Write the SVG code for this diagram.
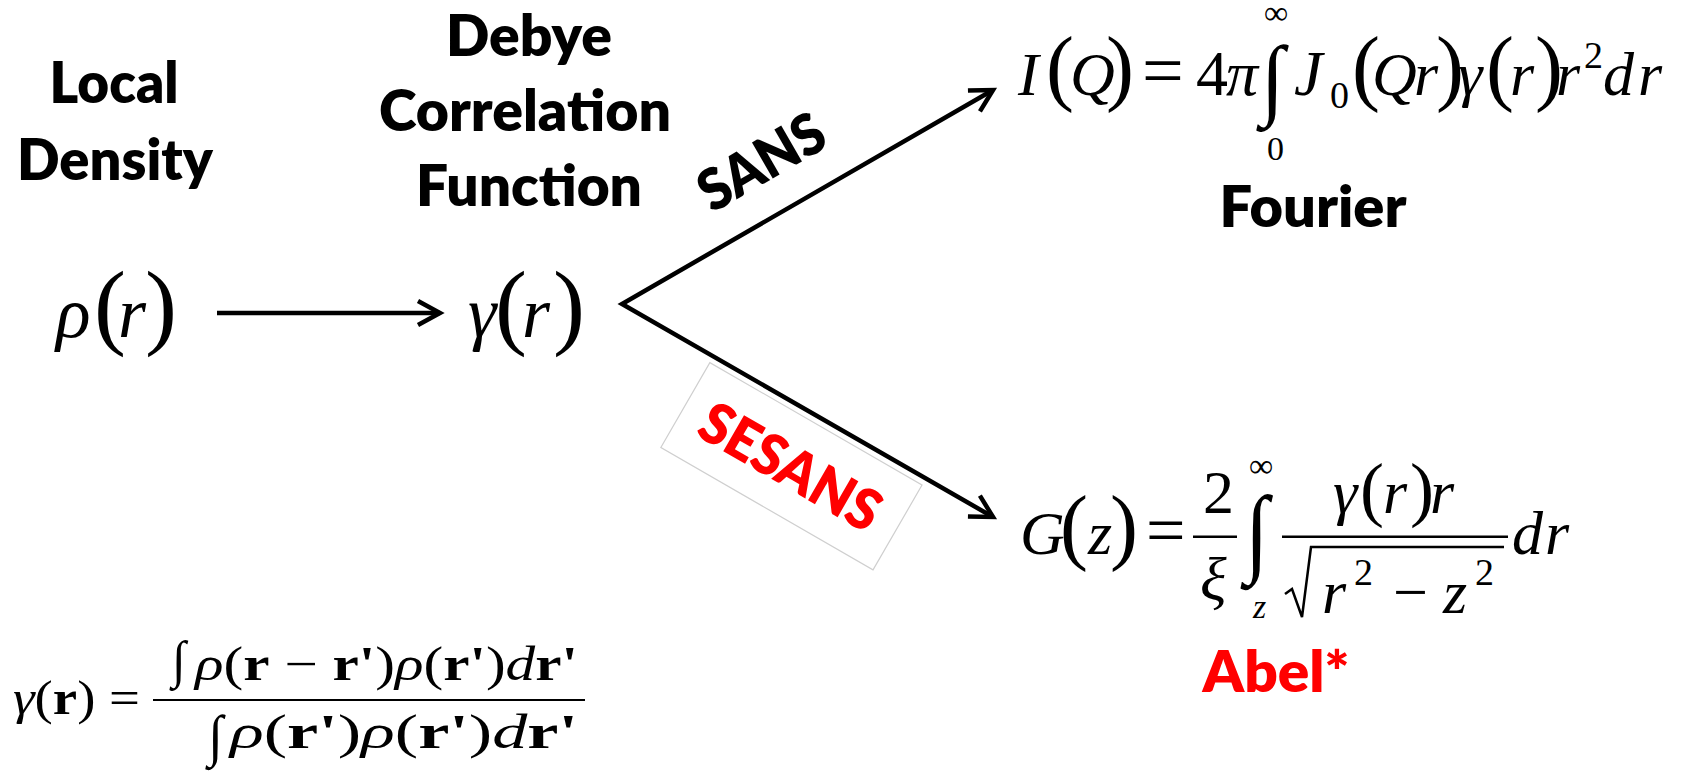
<svg xmlns="http://www.w3.org/2000/svg" width="1686" height="771" viewBox="0 0 1686 771">
<style>
.t{font-family:Lato,'Open Sans',sans-serif;font-weight:800;font-size:57px;fill:#000}
.red{fill:#ff0000}
.m{font-family:'Liberation Serif','Times New Roman',serif;font-style:italic;fill:#000}
.u{font-style:normal}
.b{font-style:normal;font-weight:700}
.line{fill:none;stroke:#000;stroke-width:4.5;stroke-linejoin:miter}
.bar{fill:#000}
</style>
<defs>
<marker id="ah" markerUnits="userSpaceOnUse" viewBox="-30 -20 40 40" markerWidth="40" markerHeight="40" refX="0" refY="0" orient="auto-start-reverse" overflow="visible">
<path d="M-22,-12 L0,0 L-22,12" fill="none" stroke="#000" stroke-width="4.5" stroke-linejoin="miter"/>
</marker>
</defs>
<rect width="1686" height="771" fill="#fff"/>

<g id="label-local-density">
<text class="t" x="114" y="103" text-anchor="middle" textLength="129" lengthAdjust="spacingAndGlyphs">Local</text>
<text class="t" x="115" y="180" text-anchor="middle" textLength="196" lengthAdjust="spacingAndGlyphs">Density</text>
</g>
<g id="label-debye">
<text class="t" x="529" y="56" text-anchor="middle" textLength="166" lengthAdjust="spacingAndGlyphs">Debye</text>
<text class="t" x="525" y="131" text-anchor="middle" textLength="292" lengthAdjust="spacingAndGlyphs">Correlation</text>
<text class="t" x="529" y="206" text-anchor="middle" textLength="226" lengthAdjust="spacingAndGlyphs">Function</text>
</g>

<g id="node-rho" class="m">
<text y="337" font-size="72"><tspan x="56">ρ</tspan><tspan x="94" class="u" font-size="96">(</tspan><tspan x="118">r</tspan><tspan x="145" class="u" font-size="96">)</tspan></text>
</g>
<g id="node-gamma" class="m">
<text y="337" font-size="72"><tspan x="468">γ</tspan><tspan x="495" class="u" font-size="96">(</tspan><tspan x="522">r</tspan><tspan x="553" class="u" font-size="96">)</tspan></text>
</g>

<g id="connectors">
<path class="line" d="M217,313 L440,313" marker-end="url(#ah)"/>
<path class="line" d="M993,90 L622,304 L993,517" marker-start="url(#ah)" marker-end="url(#ah)"/>
</g>

<g id="label-sans">
<text class="t" transform="translate(761,161) rotate(-30)" x="0" y="21" text-anchor="middle" textLength="137" lengthAdjust="spacingAndGlyphs">SANS</text>
</g>
<g id="label-sesans" transform="translate(791,466) rotate(30)">
<rect x="-122" y="-49" width="245" height="98" fill="#fff" stroke="#cfcfcf" stroke-width="1.2"/>
<text class="t red" x="0" y="21" text-anchor="middle" textLength="199" lengthAdjust="spacingAndGlyphs">SESANS</text>
</g>

<g id="formula-fourier" class="m">
<text y="95" font-size="62"><tspan x="1018">I</tspan><tspan x="1046" class="u" font-size="84">(</tspan><tspan x="1070">Q</tspan><tspan x="1106" class="u" font-size="84">)</tspan><tspan x="1142" class="u" font-size="74">=</tspan><tspan x="1196" class="u" font-size="64">4</tspan><tspan x="1226" font-size="64">π</tspan><tspan x="1294" font-size="64">J</tspan><tspan x="1330" y="108" class="u" font-size="38">0</tspan><tspan x="1352" y="95" class="u" font-size="84">(</tspan><tspan x="1372">Q</tspan><tspan x="1414">r</tspan><tspan x="1436" class="u" font-size="84">)</tspan><tspan x="1458">γ</tspan><tspan x="1486" class="u" font-size="84">(</tspan><tspan x="1510">r</tspan><tspan x="1535" class="u" font-size="84">)</tspan><tspan x="1556">r</tspan><tspan x="1584" y="68" class="u" font-size="38">2</tspan><tspan x="1603" y="95">d</tspan><tspan x="1638">r</tspan></text>
<text class="u" transform="translate(1261,108) scale(1,1.04)" font-size="86">∫</text>
<text class="u" x="1264" y="24" font-size="34">∞</text>
<text class="u" x="1267" y="160" font-size="34">0</text>
</g>
<g id="label-fourier">
<text class="t" x="1313" y="227" text-anchor="middle" textLength="187" lengthAdjust="spacingAndGlyphs">Fourier</text>
</g>

<g id="formula-abel" class="m">
<text y="554" font-size="62"><tspan x="1020">G</tspan><tspan x="1060" class="u" font-size="84">(</tspan><tspan x="1088">z</tspan><tspan x="1110" class="u" font-size="84">)</tspan><tspan x="1146" class="u" font-size="70">=</tspan><tspan x="1512">d</tspan><tspan x="1545">r</tspan></text>
<text class="u" x="1203" y="513" font-size="62">2</text>
<rect class="bar" x="1193" y="535.5" width="44" height="2.5"/>
<text x="1200" y="600" font-size="62">ξ</text>
<text class="u" transform="translate(1245,564) scale(1,1.14)" font-size="86">∫</text>
<text class="u" x="1249" y="477" font-size="34">∞</text>
<text x="1253" y="618" font-size="34">z</text>
<text y="513" font-size="62"><tspan x="1333">γ</tspan><tspan x="1360" class="u" font-size="72">(</tspan><tspan x="1383">r</tspan><tspan x="1410" class="u" font-size="72">)</tspan><tspan x="1430">r</tspan></text>
<rect class="bar" x="1282" y="535.5" width="226" height="2.5"/>
<path d="M1285,594 L1292,589 L1302,617 L1311,547 H1504" fill="none" stroke="#000" stroke-width="2.5" stroke-linejoin="miter"/>
<text y="613" font-size="62"><tspan x="1322">r</tspan><tspan x="1354" y="585" class="u" font-size="38">2</tspan><tspan x="1393" y="613" class="u">−</tspan><tspan x="1443">z</tspan><tspan x="1475" y="585" class="u" font-size="38">2</tspan></text>
</g>
<g id="label-abel">
<text class="t red" x="1276" y="692" text-anchor="middle" textLength="147" lengthAdjust="spacingAndGlyphs">Abel*</text>
</g>

<g id="formula-debye-definition" class="m">
<text y="714" font-size="48" textLength="127" lengthAdjust="spacingAndGlyphs" x="13">γ<tspan class="u">(</tspan><tspan class="b">r</tspan><tspan class="u">) =</tspan></text>
<rect class="bar" x="153" y="699" width="432" height="2"/>
<text class="u" transform="translate(172,677) scale(1,1.04)" font-size="50">∫</text>
<text y="680" font-size="48" x="195" textLength="383" lengthAdjust="spacingAndGlyphs">ρ<tspan class="u">(</tspan><tspan class="b">r</tspan><tspan class="u"> − </tspan><tspan class="b">r'</tspan><tspan class="u">)</tspan>ρ<tspan class="u">(</tspan><tspan class="b">r'</tspan><tspan class="u">)</tspan>d<tspan class="b">r'</tspan></text>
<text class="u" transform="translate(208,755) scale(1,1.05)" font-size="54">∫</text>
<text y="748" font-size="48" x="230" textLength="348" lengthAdjust="spacingAndGlyphs">ρ<tspan class="u">(</tspan><tspan class="b">r'</tspan><tspan class="u">)</tspan>ρ<tspan class="u">(</tspan><tspan class="b">r'</tspan><tspan class="u">)</tspan>d<tspan class="b">r'</tspan></text>
</g>
</svg>
